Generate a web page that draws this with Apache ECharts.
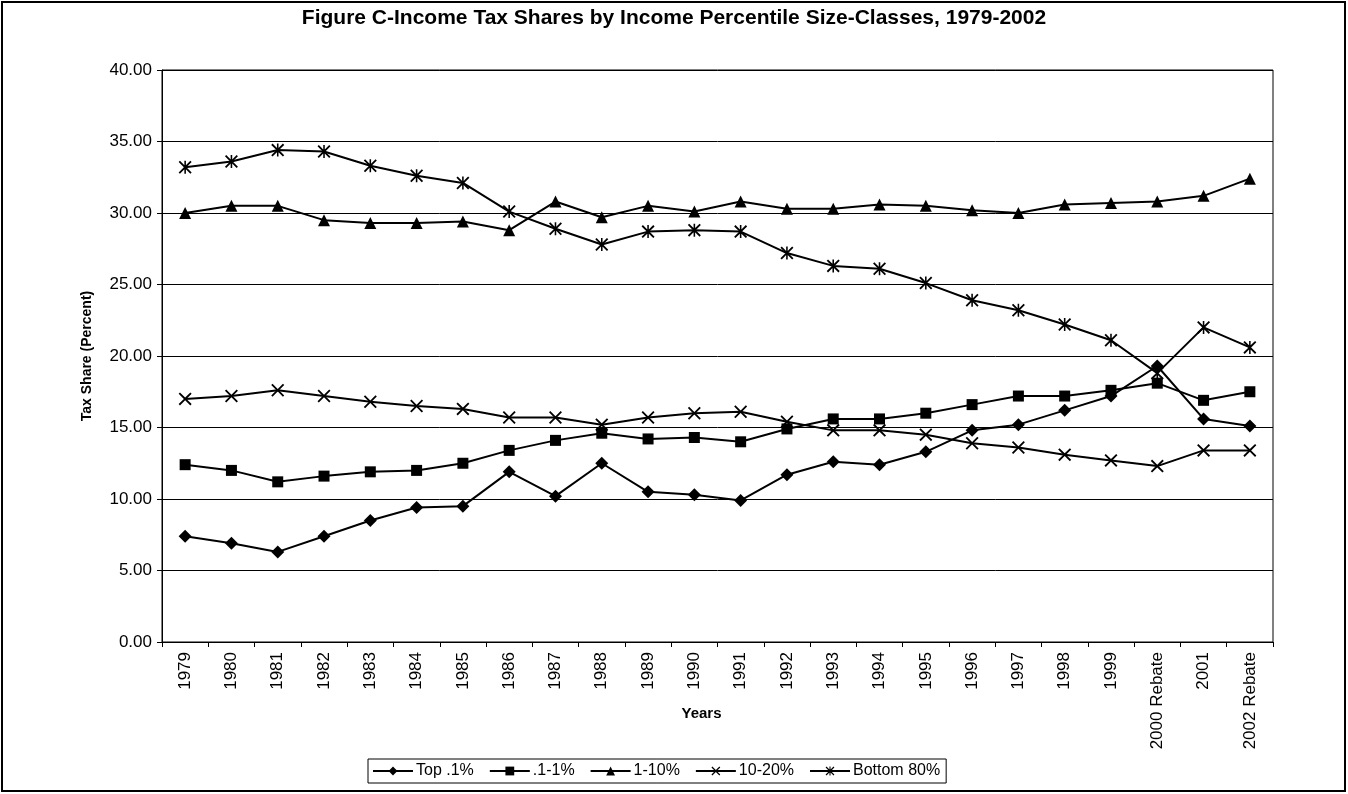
<!DOCTYPE html>
<html>
<head>
<meta charset="utf-8">
<script src="https://cdn.jsdelivr.net/npm/echarts@6/dist/echarts.min.js"></script>
<style>
  html, body { margin: 0; padding: 0; background: #fff; }
  #chart { width: 1348px; height: 794px; }
</style>
</head>
<body>
<div id="chart"></div>
<script>
// categories
var years = ['1979', '1980', '1981', '1982', '1983', '1984', '1985', '1986', '1987', '1988',
	'1989', '1990', '1991', '1992', '1993', '1994', '1995', '1996', '1997', '1998', '1999',
	'2000 Rebate', '2001', '2002 Rebate'];

// series values (tax share, percent)
var top01 = [7.4, 6.9, 6.3, 7.4, 8.5, 9.4, 9.5, 11.9, 10.2, 12.5, 10.5, 10.3, 9.9, 11.7,
	12.6, 12.4, 13.3, 14.8, 15.2, 16.2, 17.2, 19.3, 15.6, 15.1];
var top1 = [12.4, 12.0, 11.2, 11.6, 11.9, 12.0, 12.5, 13.4, 14.1, 14.6, 14.2, 14.3, 14.0,
	14.9, 15.6, 15.6, 16.0, 16.6, 17.2, 17.2, 17.6, 18.1, 16.9, 17.5];
var top10 = [30.0, 30.5, 30.5, 29.5, 29.3, 29.3, 29.4, 28.8, 30.8, 29.7, 30.5, 30.1, 30.8,
	30.3, 30.3, 30.6, 30.5, 30.2, 30.0, 30.6, 30.7, 30.8, 31.2, 32.4];
var next10 = [17.0, 17.2, 17.6, 17.2, 16.8, 16.5, 16.3, 15.7, 15.7, 15.2, 15.7, 16.0, 16.1,
	15.4, 14.8, 14.8, 14.5, 13.9, 13.6, 13.1, 12.7, 12.3, 13.4, 13.4];
var bottom80 = [33.2, 33.6, 34.4, 34.3, 33.3, 32.6, 32.1, 30.1, 28.9, 27.8, 28.7, 28.8, 28.7,
	27.2, 26.3, 26.1, 25.1, 23.9, 23.2, 22.2, 21.1, 18.8, 22.0, 20.6];

var seriesNames = ['Top .1%', '.1-1%', '1-10%', '10-20%', 'Bottom 80%'];

var crossPath = 'path://M0,1 L1,0 L5,4 L9,0 L10,1 L6,5 L10,9 L9,10 L5,6 L1,10 L0,9 L4,5 Z';
var starPath = crossPath + ' M4.4,0 L5.6,0 L5.6,10 L4.4,10 Z';

var font = "'Liberation Sans', Arial, sans-serif";

function makeSeries(name, data, symbol, size) {
	return {
		name: name,
		type: 'line',
		data: data,
		symbol: symbol,
		symbolSize: size,
		showAllSymbol: true,
		lineStyle: { color: '#000', width: 2 },
		itemStyle: { color: '#000' },
		emphasis: { disabled: true },
		animation: false
	};
}

var myChart = echarts.init(document.getElementById('chart'));
var option = {
	backgroundColor: '#fff',
	animation: false,
	title: {
		text: 'Figure C-Income Tax Shares by Income Percentile Size-Classes, 1979-2002',
		left: 'center',
		top: 3,
		textStyle: { fontFamily: font, fontSize: 21, fontWeight: 'bold', color: '#000' }
	},
	legend: {
		data: seriesNames,
		left: 368,
		top: 759,
		orient: 'horizontal',
		itemWidth: 40,
		itemHeight: 11,
		itemGap: 15,
		padding: [4, 6, 4, 4],
		borderColor: '#000',
		borderWidth: 1,
		textStyle: { fontFamily: font, fontSize: 16, color: '#000', padding: [0, 0, 0, -2] }
	},
	grid: {
		left: 162,
		right: 75,
		top: 70,
		bottom: 152,
		show: true,
		borderColor: '#000',
		borderWidth: 1
	},
	xAxis: {
		type: 'category',
		data: years,
		boundaryGap: true,
		name: 'Years',
		nameLocation: 'middle',
		nameGap: 64,
		nameMoveOverlap: false,
		nameTextStyle: { fontFamily: font, fontSize: 15, fontWeight: 'bold', color: '#000', padding: [0, 32, 0, 0] },
		axisLine: { lineStyle: { color: '#000', width: 1 } },
		axisTick: { show: true, interval: 0, length: 5, lineStyle: { color: '#000' } },
		axisLabel: { interval: 0, rotate: 90, fontFamily: font, fontSize: 17, color: '#000', margin: 10 }
	},
	yAxis: {
		type: 'value',
		min: 0,
		max: 40,
		interval: 5,
		name: 'Tax Share (Percent)',
		nameLocation: 'middle',
		nameRotate: 90,
		nameGap: 68,
		nameMoveOverlap: false,
		nameTextStyle: { fontFamily: font, fontSize: 14, fontWeight: 'bold', color: '#000' },
		axisLine: { show: true, lineStyle: { color: '#000', width: 1 } },
		axisTick: { show: true, length: 5, lineStyle: { color: '#000' } },
		axisLabel: {
			fontFamily: font, fontSize: 17, color: '#000', margin: 10,
			formatter: function (v) { return v.toFixed(2); }
		},
		splitLine: { show: true, lineStyle: { color: '#000', width: 1 } }
	},
	graphic: [{
		type: 'rect',
		shape: { x: 2, y: 2, width: 1343, height: 789 },
		style: { fill: 'none', stroke: '#000', lineWidth: 2 },
		silent: true
	}],
	series: [
		makeSeries(seriesNames[0], top01, 'diamond', 13),
		makeSeries(seriesNames[1], top1, 'rect', 11),
		makeSeries(seriesNames[2], top10, 'triangle', 12),
		makeSeries(seriesNames[3], next10, crossPath, 13),
		makeSeries(seriesNames[4], bottom80, starPath, 13)
	]
};
myChart.setOption(option);
</script>
</body>
</html>
